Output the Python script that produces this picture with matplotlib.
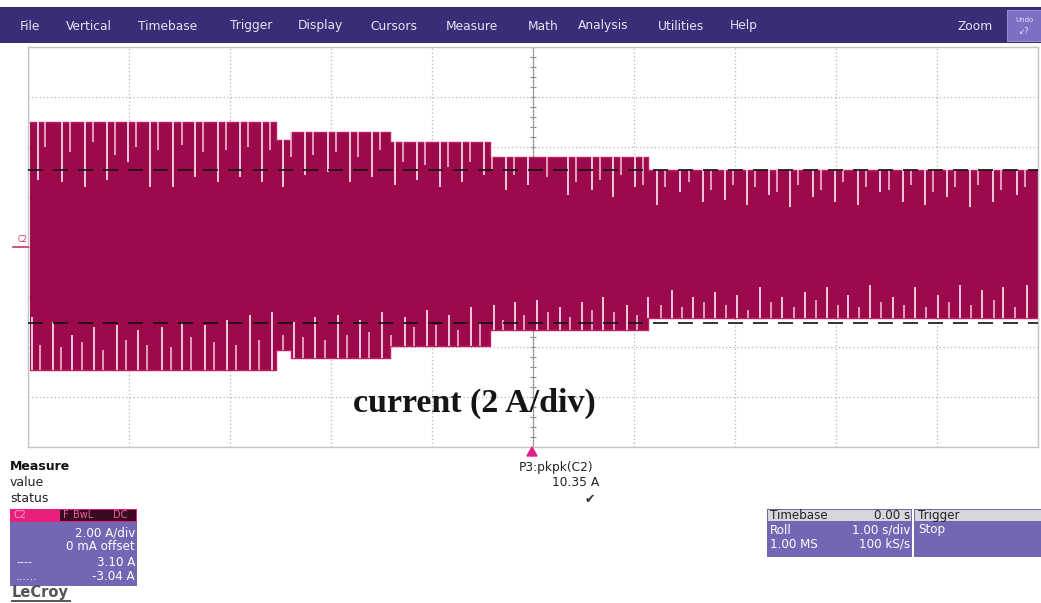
#!/usr/bin/env python3
"""Scope screenshot: current (2 A/div), roll mode, 1 s/div."""

import matplotlib
matplotlib.use('Agg')
import matplotlib.pyplot as plt
from matplotlib.patches import Rectangle, Polygon
import numpy as np

W, H = 1041, 603

# envelope of the current waveform, step-wise [s], [A]
env_t = [-4.98, -2.54, -2.40, -1.42, -0.43, 1.14, 5.00]
env_hi = [5.0, 4.3, 4.6, 4.2, 3.6, 3.1, 3.1]
env_lo = [-4.9, -4.1, -4.45, -3.95, -3.3, -2.85, -2.85]

# long white gaps hanging down from the upper envelope (time, tip level)
top_spike_t = [-4.90, -4.66, -4.44, -4.22, -4.01, -3.79, -3.56, -3.35, -3.12, -2.90,
               -2.68, -2.48, -2.26, -2.03, -1.81, -1.59, -1.37, -1.15, -0.92, -0.70,
               -0.49, -0.27, -0.05, 0.35, 0.58, 0.79, 1.01, 1.23, 1.46, 1.68,
               1.90, 2.12, 2.34, 2.54, 2.77, 2.99, 3.22, 3.44, 3.66, 3.88,
               4.10, 4.33, 4.55, 4.79]
top_spike_lo = [2.7, 2.6, 2.4, 2.7, 3.4, 2.4, 2.4, 2.8, 2.6, 2.8,
                2.6, 2.4, 2.9, 3.0, 2.6, 2.8, 2.5, 2.7, 2.4, 2.6,
                2.9, 2.3, 2.5, 2.1, 2.3, 2.0, 2.4, 1.7, 2.2, 1.8,
                1.9, 1.7, 2.1, 1.6, 2.0, 1.8, 1.7, 2.2, 1.8, 1.7,
                2.0, 1.6, 1.8, 2.1]

# short gaps at the upper envelope
top_short_t = [-4.83, -4.58, -4.36, -4.14, -3.93, -3.71, -3.48, -3.27, -3.04, -2.82,
               -2.60, -2.40, -2.18, -1.95, -1.73, -1.51, -1.29, -1.07, -0.84, -0.62,
               -0.41, -0.19, 0.14, 0.43, 0.66, 0.87, 1.09, 1.31, 1.54, 1.76,
               1.98, 2.20, 2.42, 2.62, 2.85, 3.07, 3.30, 3.52, 3.74, 3.96,
               4.18, 4.41, 4.63, 4.87]
top_short_lo = [4.0, 3.8, 4.2, 3.7, 4.0, 3.9, 4.1, 3.8, 3.9, 4.0,
                3.9, 3.6, 3.7, 3.8, 3.6, 3.9, 3.4, 3.3, 3.2, 3.4,
                3.1, 2.9, 2.8, 2.6, 2.7, 2.9, 2.5, 2.4, 2.6, 2.3,
                2.5, 2.4, 2.2, 2.5, 2.3, 2.6, 2.4, 2.3, 2.5, 2.2,
                2.4, 2.5, 2.3, 2.4]

# long white gaps rising from the lower envelope
bot_spike_t = [-4.96, -4.75, -4.56, -4.35, -4.12, -3.91, -3.67, -3.48, -3.25, -3.03,
               -2.80, -2.58, -2.37, -2.16, -1.93, -1.71, -1.50, -1.27, -1.05, -0.83,
               -0.61, -0.39, -0.18, 0.04, 0.27, 0.49, 0.69, 0.93, 1.14, 1.38,
               1.58, 1.80, 2.02, 2.25, 2.47, 2.69, 2.91, 3.12, 3.34, 3.56,
               3.78, 4.01, 4.23, 4.45, 4.65, 4.89]
bot_spike_hi = [-2.8, -3.0, -3.5, -3.2, -3.1, -3.3, -3.2, -3.0, -3.1, -2.9,
                -2.7, -2.6, -3.0, -2.8, -2.7, -2.9, -2.6, -2.8, -2.5, -2.7,
                -2.4, -2.3, -2.2, -2.1, -2.4, -2.2, -2.0, -2.3, -2.0, -1.7,
                -2.0, -1.8, -1.9, -1.6, -2.0, -1.8, -1.6, -1.9, -1.5, -2.0,
                -1.6, -1.9, -1.5, -1.7, -1.6, -1.5]

# short gaps at the lower envelope
bot_short_t = [-4.88, -4.67, -4.47, -4.26, -4.03, -3.82, -3.58, -3.39, -3.16, -2.94,
               -2.71, -2.48, -2.28, -2.06, -1.84, -1.62, -1.41, -1.18, -0.96, -0.74,
               -0.52, -0.30, -0.09, 0.15, 0.37, 0.58, 0.80, 1.03, 1.27, 1.48,
               1.69, 1.91, 2.13, 2.36, 2.58, 2.80, 3.02, 3.23, 3.45, 3.67,
               3.89, 4.12, 4.34, 4.56, 4.77]
bot_short_hi = [-3.9, -4.0, -3.8, -4.1, -3.7, -3.9, -4.0, -3.6, -3.8, -3.9,
                -3.7, -3.5, -3.6, -3.7, -3.5, -3.4, -3.5, -3.2, -3.1, -3.3,
                -3.0, -2.9, -2.7, -2.6, -2.8, -2.5, -2.6, -2.7, -2.3, -2.4,
                -2.2, -2.3, -2.5, -2.2, -2.4, -2.1, -2.3, -2.4, -2.2, -2.3,
                -2.4, -2.2, -2.3, -2.1, -2.4]

cursor_hi = 3.10
cursor_lo = -3.04

menu_items = ['File', 'Vertical', 'Timebase', 'Trigger', 'Display', 'Cursors',
              'Measure', 'Math', 'Analysis', 'Utilities', 'Help']
menu_x = [20, 66, 138, 230, 298, 370, 446, 528, 578, 658, 730]

WAVE = '#9c0a4c'
EDGE = '#c21a62'
GAP = '#f3c8dd'
MENU = '#3a2d78'
BOX = '#7367b5'


def fx(x):
    return x / W


def fy(y):
    return 1 - y / H


def rect(x0, y0, x1, y1, color, **kw):
    fig.patches.append(Rectangle((fx(x0), fy(y1)), (x1 - x0) / W, (y1 - y0) / H,
                                 transform=fig.transFigure, facecolor=color,
                                 edgecolor=kw.pop('ec', 'none'), **kw))


def txt(x, y, s, **kw):
    kw.setdefault('fontsize', 8.5)
    kw.setdefault('va', 'center')
    kw.setdefault('family', 'DejaVu Sans')
    fig.text(fx(x), fy(y), s, **kw)


def level_at(t, levels):
    idx = np.clip(np.searchsorted(env_t, t, side='right') - 1, 0, len(levels) - 1)
    return np.asarray(levels)[idx]


fig = plt.figure(figsize=(W / 100, H / 100), dpi=100)
fig.patch.set_facecolor('white')

# ###############################
# menu bar
# ###############################
rect(0, 7, W, 43, MENU)
for name, x in zip(menu_items, menu_x):
    txt(x, 26, name, color='#e6e4f2', fontsize=8.8)
txt(958, 27, 'Zoom', color='#e6e4f2', fontsize=8.8)
rect(1007, 10, 1041, 41, '#7c70c4', ec='#a49ad8', lw=0.6)
txt(1024, 20, 'Undo', color='#e6e4f2', fontsize=5, ha='center')
txt(1024, 31, '\u2199?', color='#e6e4f2', fontsize=5.5, ha='center')

# ###############################
# scope grid and waveform
# ###############################
ax = fig.add_axes([fx(28), fy(447), 1010 / W, 400 / H])
ax.set_xlim(-5, 5)
ax.set_ylim(-8, 8)
ax.set_xticks(np.arange(-5, 6, 1))
ax.set_yticks(np.arange(-8, 9, 2))
ax.tick_params(length=0, labelbottom=False, labelleft=False)
ax.grid(which='major', color='#b4b4b4', linestyle=(0, (1, 2)), linewidth=0.9)
for s in ax.spines.values():
    s.set_color('#c4c4c4')
    s.set_linewidth(1.0)

# centre cross with sub-division ticks
ax.axvline(0, color='#8a8a8a', lw=0.8, zorder=1)
ax.axhline(0, color='#8a8a8a', lw=0.8, zorder=1)
ax.plot(np.zeros(41), np.arange(-8, 8.01, 0.4), ls='none', marker='_', ms=5,
        color='#8a8a8a', mew=0.8, zorder=1)

ax.fill_between(env_t, env_lo, env_hi, step='post', color=WAVE, lw=0, zorder=2)
ax.step(env_t, env_hi, where='post', color=EDGE, lw=1.0, zorder=3)
ax.step(env_t, env_lo, where='post', color=EDGE, lw=1.0, zorder=3)

tt = np.array(top_spike_t)
ax.vlines(tt, top_spike_lo, level_at(tt, env_hi), color=GAP, lw=1.4, zorder=4)
ts = np.array(top_short_t)
ax.vlines(ts, top_short_lo, level_at(ts, env_hi), color=GAP, lw=1.1, zorder=4)
bt = np.array(bot_spike_t)
ax.vlines(bt, level_at(bt, env_lo), bot_spike_hi, color=GAP, lw=1.4, zorder=4)
bs = np.array(bot_short_t)
ax.vlines(bs, level_at(bs, env_lo), bot_short_hi, color=GAP, lw=1.1, zorder=4)

# cursors
ax.axhline(cursor_hi, color='#111111', lw=1.2, ls=(0, (9, 6)), zorder=5)
ax.axhline(cursor_lo, color='#111111', lw=1.2, ls=(0, (9, 6)), zorder=5)

ax.text(-0.58, -6.25, 'current (2 A/div)', ha='center', va='center', fontsize=24.5,
        fontweight='bold', family='Liberation Serif', color='#151515', zorder=6)

# channel marker on the left
txt(18, 240, 'C2', color='#d0306f', fontsize=5.5)
fig.lines.append(plt.Line2D([fx(13), fx(28)], [fy(247), fy(247)], transform=fig.transFigure,
                            color='#d0306f', lw=1.2))

# trigger marker under the grid
fig.patches.append(Polygon([(fx(527), fy(456)), (fx(537), fy(456)), (fx(532), fy(447))],
                           closed=True, transform=fig.transFigure, color='#e0208a'))

# ###############################
# measure area
# ###############################
txt(10, 467, 'Measure', fontweight='bold', color='#111111', fontsize=9)
txt(10, 483, 'value', color='#222222', fontsize=9)
txt(10, 498, 'status', color='#222222', fontsize=9)
txt(556, 467, 'P3:pkpk(C2)', ha='center', color='#222222', fontsize=8.8)
txt(599, 483, '10.35 A', ha='right', color='#222222', fontsize=8.8)
txt(590, 499, '\u2714', ha='center', color='#333333', fontsize=9)

# channel box
rect(10, 509, 137, 586, BOX)
rect(10, 509, 137, 522, '#e8207c')
txt(14, 515.5, 'C2', color='#ff9ac8', fontsize=7)
rect(60, 510, 136, 521, '#3a0a22')
txt(63, 515.5, 'F', color='#f060a0', fontsize=7)
txt(73, 515.5, 'BwL', color='#f060a0', fontsize=7)
txt(113, 515.5, 'DC', color='#f060a0', fontsize=7)
txt(135, 533, '2.00 A/div', ha='right', color='white', fontsize=8.6)
txt(135, 547, '0 mA offset', ha='right', color='white', fontsize=8.6)
txt(135, 562, '3.10 A', ha='right', color='white', fontsize=8.6)
txt(135, 577, '-3.04 A', ha='right', color='white', fontsize=8.6)
txt(16, 562, '----', color='white', fontsize=8)
txt(16, 577, '......', color='white', fontsize=8)
txt(12, 593, 'LeCroy', color='#555555', fontsize=10.5, fontweight='bold')
fig.lines.append(plt.Line2D([fx(12), fx(70)], [fy(601), fy(601)], transform=fig.transFigure,
                            color='#555555', lw=1.4))

# timebase and trigger boxes
rect(767, 509, 912, 557, BOX)
rect(768, 510, 911, 521, '#d6d6dc')
txt(770, 515.5, 'Timebase', color='#222222', fontsize=8.6)
txt(910, 515.5, '0.00 s', ha='right', color='#222222', fontsize=8.6)
txt(770, 530, 'Roll', color='white', fontsize=8.6)
txt(910, 530, '1.00 s/div', ha='right', color='white', fontsize=8.6)
txt(770, 544, '1.00 MS', color='white', fontsize=8.6)
txt(910, 544, '100 kS/s', ha='right', color='white', fontsize=8.6)
rect(914, 509, 1041, 557, BOX)
rect(915, 510, 1041, 521, '#d6d6dc')
txt(918, 515.5, 'Trigger', color='#222222', fontsize=8.6)
txt(918, 530, 'Stop', color='white', fontsize=8.6)

plt.savefig('out.png', dpi=100)
